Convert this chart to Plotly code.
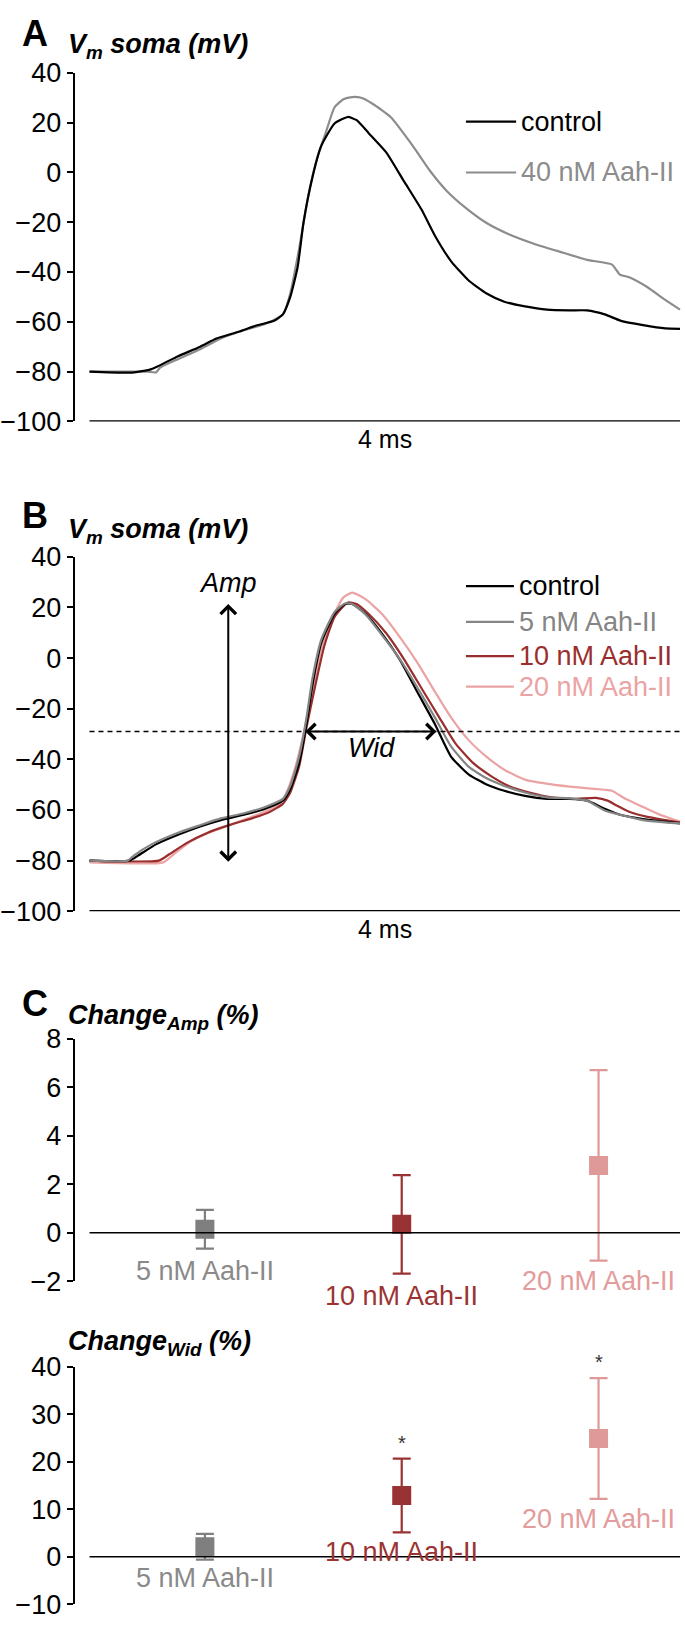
import plotly.graph_objects as go

W, H = 685, 1633
FONT = "Liberation Sans, Arial, sans-serif"
TS = 27  # main text size

# ---------------- Panel A data (time in ms, Vm in mV) ----------------
a_ctrl_t = [0, 0.29, 0.42, 0.6, 0.75, 0.86, 1.01, 1.13, 1.25, 1.31, 1.36, 1.41, 1.45, 1.51, 1.57, 1.66, 1.75, 1.81,
            1.89, 2.01, 2.13, 2.25, 2.34, 2.45, 2.57, 2.69, 2.81, 2.95, 3.1, 3.25, 3.37, 3.49, 3.6, 3.75, 3.9, 4.0]
a_ctrl_v = [-80, -80.4, -79, -73.8, -70, -66.7, -64, -61.5, -59.6, -57, -50, -38, -20, -2, 10.7, 19.7, 22.3, 21,
            15.9, 8.1, -3.5, -15, -25.4, -35.7, -43.5, -48.6, -51.9, -53.8, -55.1, -55.4, -55.4, -57, -59.6, -61.3,
            -62.6, -62.8]
a_40_t = [0, 0.39, 0.45, 0.48, 0.6, 0.75, 0.89, 1.04, 1.19, 1.31, 1.36, 1.42, 1.48, 1.54, 1.6, 1.66, 1.72, 1.78,
          1.84, 1.92, 2.04, 2.19, 2.31, 2.42, 2.54, 2.69, 2.84, 3.01, 3.19, 3.37, 3.54, 3.59, 3.66, 3.78, 3.9, 4.0]
a_40_v = [-80, -80, -80.3, -78.3, -75, -71, -66.7, -63.5, -60.9, -57, -48.6, -30.6, -10, 5.5, 15.9, 26.2, 29.4, 30.3,
          30, 27.5, 22.3, 10.7, 0.4, -7.4, -13.8, -20.3, -24.8, -28.6, -31.9, -35.1, -37, -40.9, -42.2, -46.1,
          -51.2, -55.1]
a_names = ["control", "40 nM Aah-II"]
a_colors = ["#000000", "#8c8c8c"]
a_legend_y = [20.4, 0]

# ---------------- Panel B data ----------------
b_ctrl_t = [0, 0.27, 0.33, 0.45, 0.6, 0.75, 0.89, 1.04, 1.19, 1.31, 1.36, 1.42, 1.47, 1.51, 1.57, 1.66, 1.73, 1.78,
            1.87, 1.98, 2.1, 2.22, 2.34, 2.45, 2.57, 2.69, 2.81, 2.95, 3.1, 3.25, 3.37, 3.49, 3.6, 3.75, 3.9, 4.0]
b_ctrl_v = [-80, -80, -78, -73.6, -69.8, -66.5, -64, -62, -59.5, -56.3, -51.8, -41.5, -26, -10.7, 6, 17.5, 21.4,
            21.4, 17.5, 9.8, -0.4, -13.3, -26.1, -39, -46, -49.9, -52.4, -54.4, -55.6, -55.6, -56.3, -59.5, -62,
            -63.6, -64.6, -65.3]
b_5_t = [0, 0.26, 0.3, 0.42, 0.6, 0.75, 0.89, 1.04, 1.19, 1.31, 1.36, 1.42, 1.47, 1.51, 1.57, 1.66, 1.73, 1.78,
         1.87, 1.98, 2.1, 2.22, 2.34, 2.45, 2.57, 2.69, 2.81, 2.95, 3.1, 3.25, 3.37, 3.49, 3.6, 3.75, 3.9, 4.0]
b_5_v = [-80, -80, -78, -73.6, -69, -66, -63.3, -61.4, -58.8, -55.6, -50.5, -39, -23.5, -8.1, 7.3, 18.2, 21.6, 21.4,
         17.2, 9.2, -0.2, -11.5, -23.5, -35, -43, -47.5, -50.5, -53.1, -55, -55.4, -56.3, -60.2, -62, -64, -64.9,
         -65.3]
b_10_t = [0, 0.47, 0.54, 0.66, 0.8, 0.95, 1.1, 1.22, 1.31, 1.36, 1.42, 1.47, 1.53, 1.59, 1.66, 1.75, 1.81, 1.89,
          2.01, 2.13, 2.25, 2.37, 2.48, 2.6, 2.72, 2.84, 2.98, 3.13, 3.28, 3.43, 3.51, 3.57, 3.66, 3.78, 3.9, 4.0]
b_10_v = [-80, -80, -77.5, -73, -69, -65.9, -63.3, -60.8, -57.6, -53.1, -42.8, -27.4, -10.7, 4.7, 16.3, 22, 21.4,
          17.5, 9.8, -0.4, -12, -23.5, -33.8, -41.5, -46.6, -50.5, -53.1, -55, -55.6, -55.2, -56.3, -58.2, -60.8,
          -62.7, -64, -64.9]
b_20_t = [0, 0.5, 0.57, 0.69, 0.83, 0.98, 1.13, 1.28, 1.33, 1.39, 1.45, 1.51, 1.57, 1.66, 1.72, 1.78, 1.87, 1.98,
          2.1, 2.22, 2.34, 2.45, 2.57, 2.69, 2.81, 2.95, 3.13, 3.31, 3.49, 3.54, 3.63, 3.75, 3.87, 4.0]
b_20_v = [-80.7, -80.7, -77.5, -72.3, -68.5, -65.3, -62, -58.2, -53.7, -44, -30, -13.3, 3.4, 17.5, 24, 25.9, 23.3,
          17.5, 8.5, -1.7, -13.3, -23.5, -32.5, -39, -44.1, -48, -49.9, -51.1, -52, -52.4, -55.6, -58.8, -62, -64.6]
b_names = ["control", "5 nM Aah-II", "10 nM Aah-II", "20 nM Aah-II"]
b_colors = ["#000000", "#858585", "#9a2e2e", "#eba3a3"]
b_legend_y = [28.4, 14.3, 0.8, -11.3]
b_threshold = -29
b_amp = [-81, 21.4]          # Amp arrow extent (mV)
b_amp_t = 0.94
b_wid = [1.452, 2.35]        # Wid arrow extent (ms)

# ---------------- Panel C data ----------------
c_labels = ["5 nM Aah-II", "10 nM Aah-II", "20 nM Aah-II"]
c_pos = [1, 2, 3]
c_colors = ["#7f7f7f", "#993333", "#df9999"]
c_text_colors = ["#8a8a8a", "#9b3333", "#e39c9c"]
amp_mean = [0.15, 0.35, 2.78]
amp_err = [0.8, 2.03, 3.93]
wid_mean = [2.1, 12.9, 24.9]
wid_err = [2.7, 7.75, 12.7]
wid_sig = ["", "*", "*"]
amp_label_y = [-1.58, -2.59, -1.98]
wid_label_y = [-4.5, 0.9, 8.0]

# ---------------- layout helpers ----------------
def ppy(px):
    return 1 - px / H

def ppx(px):
    return px / W

XDOM = [ppx(71), ppx(681)]
T_RANGE = [-0.101, 4.007]
C_RANGE = [0.338, 3.419]

# plot boxes (top px, bottom px) and value ranges
A_BOX, A_RNG = (59, 414), [-100, 40]
B_BOX, B_RNG = (552, 913), [-100, 40]
C1_BOX, C1_RNG = (1043, 1290), [-2, 8]
C2_BOX, C2_RNG = (1377, 1619), [-10, 40]

def val2paper(box, rng, v):
    top, bot = box
    px = bot - (v - rng[0]) / (rng[1] - rng[0]) * (bot - top)
    return ppy(px)

fig = go.Figure()

LW = 2.2
spl = dict(shape="spline", smoothing=0.5)

# Panel A traces
for t, v, name, col in [(a_40_t, a_40_v, a_names[1], a_colors[1]), (a_ctrl_t, a_ctrl_v, a_names[0], a_colors[0])]:
    fig.add_trace(go.Scatter(x=t, y=v, mode="lines", line=dict(color=col, width=LW, **spl),
                             name=name, showlegend=False, xaxis="x", yaxis="y"))

# Panel B traces
b_series = [(b_20_t, b_20_v, 3), (b_10_t, b_10_v, 2), (b_ctrl_t, b_ctrl_v, 0), (b_5_t, b_5_v, 1)]
for t, v, i in b_series:
    fig.add_trace(go.Scatter(x=t, y=v, mode="lines", line=dict(color=b_colors[i], width=LW, **spl),
                             name=b_names[i], showlegend=False, xaxis="x2", yaxis="y2"))
# threshold dashed line
fig.add_trace(go.Scatter(x=[b_ctrl_t[0], b_ctrl_t[-1]], y=[b_threshold, b_threshold], mode="lines",
                         line=dict(color="black", width=1.6, dash="5px,4px"), showlegend=False,
                         xaxis="x2", yaxis="y2"))

# Panel C traces
for i in range(3):
    fig.add_trace(go.Scatter(x=[c_pos[i]], y=[amp_mean[i]], mode="markers",
                             marker=dict(symbol="square", size=19, color=c_colors[i]),
                             error_y=dict(type="data", array=[amp_err[i]], color=c_colors[i], thickness=2.2, width=9),
                             showlegend=False, xaxis="x3", yaxis="y3"))
    fig.add_trace(go.Scatter(x=[c_pos[i]], y=[wid_mean[i]], mode="markers",
                             marker=dict(symbol="square", size=19, color=c_colors[i]),
                             error_y=dict(type="data", array=[wid_err[i]], color=c_colors[i], thickness=2.2, width=9),
                             showlegend=False, xaxis="x4", yaxis="y4"))

shapes = []
ann = []

def yax(box, rng, tv, anchor):
    return dict(domain=[ppy(box[1]), ppy(box[0])], range=rng, tickvals=tv, showline=True, linecolor="black",
                linewidth=2, ticks="outside", ticklen=6, tickwidth=2, tickcolor="black", showgrid=False,
                zeroline=False, anchor=anchor,
                tickfont=dict(family=FONT, size=TS, color="black"), fixedrange=True)

def xax(rng, anchor):
    return dict(domain=XDOM, range=rng, visible=False, anchor=anchor, fixedrange=True)

# baseline "4 ms" bars and zero lines
shapes.append(dict(type="line", xref="x", yref="y", x0=a_ctrl_t[0], x1=a_ctrl_t[-1], y0=-100, y1=-100,
                   line=dict(color="black", width=2.5)))
shapes.append(dict(type="line", xref="x2", yref="y2", x0=b_ctrl_t[0], x1=b_ctrl_t[-1], y0=-100, y1=-100,
                   line=dict(color="black", width=2.5)))
shapes.append(dict(type="line", xref="x3", yref="y3", x0=0.414, x1=3.414, y0=0, y1=0,
                   line=dict(color="black", width=1.6)))
shapes.append(dict(type="line", xref="x4", yref="y4", x0=0.414, x1=3.414, y0=0, y1=0,
                   line=dict(color="black", width=1.6)))

# legends A
for i in range(2):
    shapes.append(dict(type="line", xref="x", yref="y", x0=2.55, x1=2.89, y0=a_legend_y[i], y1=a_legend_y[i],
                       line=dict(color=a_colors[i], width=LW)))
    ann.append(dict(xref="x", yref="y", x=2.91, y=a_legend_y[i], text=a_names[i], showarrow=False,
                    xanchor="left", yanchor="middle", font=dict(family=FONT, size=TS, color=a_colors[i])))
# legends B
for i in range(4):
    shapes.append(dict(type="line", xref="x2", yref="y2", x0=2.55, x1=2.875, y0=b_legend_y[i], y1=b_legend_y[i],
                       line=dict(color=b_colors[i], width=LW)))
    ann.append(dict(xref="x2", yref="y2", x=2.895, y=b_legend_y[i], text=b_names[i], showarrow=False,
                    xanchor="left", yanchor="middle", font=dict(family=FONT, size=TS, color=b_colors[i])))

# Amp / Wid arrows
ann.append(dict(xref="x2", yref="y2", axref="x2", ayref="y2", x=b_amp_t, y=b_amp[1], ax=b_amp_t, ay=b_amp[0],
                text="", showarrow=True, arrowhead=4, startarrowhead=4, arrowside="end+start",
                arrowsize=1.5, startarrowsize=1.5, arrowwidth=2, arrowcolor="black"))
ann.append(dict(xref="x2", yref="y2", axref="x2", ayref="y2", x=b_wid[1], y=b_threshold, ax=b_wid[0],
                ay=b_threshold, text="", showarrow=True, arrowhead=4, startarrowhead=4, arrowside="end+start",
                arrowsize=1.5, startarrowsize=1.5, arrowwidth=2, arrowcolor="black"))
ann.append(dict(xref="x2", yref="y2", x=b_amp_t, y=29.7, text="<i>Amp</i>", showarrow=False,
                font=dict(family=FONT, size=TS, color="black")))
ann.append(dict(xref="x2", yref="y2", x=1.91, y=-35.5, text="<i>Wid</i>", showarrow=False,
                font=dict(family=FONT, size=TS, color="black")))

# "4 ms"
ann.append(dict(xref="x", yref="paper", x=2.0, y=ppy(A_BOX[1] + 18), text="4 ms", showarrow=False,
                yanchor="middle", font=dict(family=FONT, size=25, color="black")))
ann.append(dict(xref="x2", yref="paper", x=2.0, y=ppy(B_BOX[1] + 18), text="4 ms", showarrow=False,
                yanchor="middle", font=dict(family=FONT, size=25, color="black")))

# Panel C labels and significance
for i in range(3):
    ann.append(dict(xref="x3", yref="paper", x=c_pos[i], y=val2paper(C1_BOX, C1_RNG, amp_label_y[i]),
                    text=c_labels[i], showarrow=False, yanchor="middle",
                    font=dict(family=FONT, size=TS, color=c_text_colors[i])))
    ann.append(dict(xref="x4", yref="paper", x=c_pos[i], y=val2paper(C2_BOX, C2_RNG, wid_label_y[i]),
                    text=c_labels[i], showarrow=False, yanchor="middle",
                    font=dict(family=FONT, size=TS, color=c_text_colors[i])))
    if wid_sig[i]:
        ann.append(dict(xref="x4", yref="paper", x=c_pos[i],
                        y=val2paper(C2_BOX, C2_RNG, wid_mean[i] + wid_err[i] + 3.3), text=wid_sig[i],
                        showarrow=False, yanchor="middle", font=dict(family=FONT, size=20, color="#333333")))

# panel letters and titles
for letter, cy in [("A", 19), ("B", 510), ("C", 1007)]:
    ann.append(dict(xref="paper", yref="paper", x=ppx(31), y=ppy(cy), text="<b>%s</b>" % letter, showarrow=False,
                    xanchor="center", yanchor="middle", font=dict(family=FONT, size=36, color="black")))
for text, cy in [("<b><i>V<sub>m</sub> soma (mV)</i></b>", 32), ("<b><i>V<sub>m</sub> soma (mV)</i></b>", 526),
                 ("<b><i>Change<sub>Amp</sub> (%)</i></b>", 1021), ("<b><i>Change<sub>Wid</sub> (%)</i></b>", 1353)]:
    ann.append(dict(xref="paper", yref="paper", x=ppx(62), y=ppy(cy), text=text, showarrow=False,
                    xanchor="left", yanchor="middle", font=dict(family=FONT, size=27, color="black")))

fig.update_layout(
    width=W, height=H, margin=dict(l=0, r=0, t=0, b=0),
    paper_bgcolor="white", plot_bgcolor="white", showlegend=False,
    xaxis=xax(T_RANGE, "y"), xaxis2=xax(T_RANGE, "y2"), xaxis3=xax(C_RANGE, "y3"), xaxis4=xax(C_RANGE, "y4"),
    yaxis=yax(A_BOX, A_RNG, [-100, -80, -60, -40, -20, 0, 20, 40], "x"),
    yaxis2=yax(B_BOX, B_RNG, [-100, -80, -60, -40, -20, 0, 20, 40], "x2"),
    yaxis3=yax(C1_BOX, C1_RNG, [-2, 0, 2, 4, 6, 8], "x3"),
    yaxis4=yax(C2_BOX, C2_RNG, [-10, 0, 10, 20, 30, 40], "x4"),
    shapes=shapes, annotations=ann,
)

fig.write_html("out.html", config={"displayModeBar": False, "staticPlot": True},
               post_script="document.body.style.margin='0px';document.body.style.overflow='hidden';")
